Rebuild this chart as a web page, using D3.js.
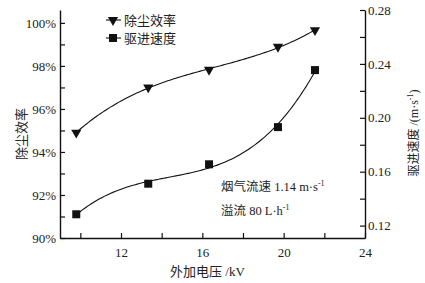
<!DOCTYPE html>
<html>
<head>
<meta charset="utf-8">
<script src="https://cdn.jsdelivr.net/npm/d3@7"></script>
<style>
  body { margin: 0; background: #fff; }
  svg { display: block; }
  text { font-family: "Liberation Serif", "Noto Sans CJK SC", serif; fill: #222; }
</style>
</head>
<body>
<div id="chart"></div>
<script>
// voltage (kV)
const voltage = [9.8, 13.34, 16.33, 19.72, 21.54];
// dust removal efficiency (%)
const efficiency = [94.9, 97.0, 97.82, 98.89, 99.66];
// migration velocity (m/s)
const velocity = [0.1284, 0.1511, 0.1655, 0.1931, 0.2354];

const xTicks = [10, 12, 14, 16, 18, 20, 22, 24];
const xLabels = [12, 16, 20, 24];
const yLeftTicks = [90, 91, 92, 93, 94, 95, 96, 97, 98, 99, 100];
const yLeftLabels = [90, 92, 94, 96, 98, 100];
const yRightTicks = [0.12, 0.14, 0.16, 0.18, 0.20, 0.22, 0.24, 0.26, 0.28];
const yRightLabels = [0.12, 0.16, 0.20, 0.24, 0.28];

const W = 425, H = 283;
const m = { top: 10, right: 60, bottom: 45, left: 60 };
const w = W - m.left - m.right, h = H - m.top - m.bottom;

const svg = d3.select('#chart').append('svg').attr('width', W).attr('height', H);
const g = svg.append('g').attr('transform', `translate(${m.left},${m.top})`);

const x = d3.scaleLinear().domain([9, 24]).range([0, w]);
const yL = d3.scaleLinear().domain([90, 100.6]).range([h, 0]);
const yR = d3.scaleLinear().domain([0.1108, 0.28]).range([h, 0]);

// least squares polynomial fit
function polyFit(xs, ys, deg) {
  const n = deg + 1;
  const A = Array.from({ length: n }, () => new Array(n + 1).fill(0));
  xs.forEach((xv, k) => {
    const t = xv - 16;
    for (let i = 0; i < n; i++) {
      for (let j = 0; j < n; j++) A[i][j] += Math.pow(t, i + j);
      A[i][n] += ys[k] * Math.pow(t, i);
    }
  });
  for (let i = 0; i < n; i++) {
    let p = i;
    for (let r = i + 1; r < n; r++) if (Math.abs(A[r][i]) > Math.abs(A[p][i])) p = r;
    [A[i], A[p]] = [A[p], A[i]];
    for (let r = 0; r < n; r++) {
      if (r === i) continue;
      const f = A[r][i] / A[i][i];
      for (let c = i; c <= n; c++) A[r][c] -= f * A[i][c];
    }
  }
  const coef = A.map((row, i) => row[n] / row[i]);
  return v => coef.reduce((s, c, i) => s + c * Math.pow(v - 16, i), 0);
}

const fitE = polyFit(voltage, efficiency, 3);
const fitV = polyFit(voltage, velocity, 3);
const xs = d3.range(voltage[0], voltage[voltage.length - 1] + 0.001, 0.1);

g.append('path')
  .attr('d', d3.line().x(d => x(d)).y(d => yL(fitE(d)))(xs))
  .attr('fill', 'none').attr('stroke', '#111').attr('stroke-width', 1.1);
g.append('path')
  .attr('d', d3.line().x(d => x(d)).y(d => yR(fitV(d)))(xs))
  .attr('fill', 'none').attr('stroke', '#111').attr('stroke-width', 1.1);

const tri = d3.symbol().type(d3.symbolTriangle).size(45);
g.selectAll('.tri').data(voltage).join('path')
  .attr('transform', (d, i) => `translate(${x(d)},${yL(efficiency[i])}) rotate(180)`)
  .attr('d', tri).attr('fill', '#111');
g.selectAll('.sq').data(voltage).join('rect')
  .attr('x', d => x(d) - 4).attr('y', (d, i) => yR(velocity[i]) - 4)
  .attr('width', 8).attr('height', 8).attr('fill', '#111');

// axes
const styleAxis = ax => {
  ax.selectAll('path.domain').attr('stroke', '#111').attr('stroke-width', 1.4);
  ax.selectAll('line').attr('stroke', '#111').attr('stroke-width', 1.2);
  ax.selectAll('text').attr('font-size', '13px').attr('fill', '#222')
    .attr('font-family', '"Liberation Serif", serif');
};

g.append('g').attr('transform', `translate(0,${h})`)
  .call(d3.axisBottom(x).tickValues(xTicks).tickSizeInner(-5).tickSizeOuter(0).tickPadding(10)
    .tickFormat(d => xLabels.includes(d) ? d : ''))
  .call(styleAxis);

g.append('g')
  .call(d3.axisLeft(yL).tickValues(yLeftTicks).tickSizeInner(-5).tickSizeOuter(0).tickPadding(4)
    .tickFormat(d => yLeftLabels.includes(d) ? d + '%' : ''))
  .call(styleAxis);

g.append('g').attr('transform', `translate(${w},0)`)
  .call(d3.axisRight(yR).tickValues(yRightTicks).tickSizeInner(-5).tickSizeOuter(0).tickPadding(3)
    .tickFormat(d => yRightLabels.includes(+d.toFixed(2)) ? d.toFixed(2) : ''))
  .call(styleAxis);

// axis titles
svg.append('text').attr('x', m.left + w / 2 - 5).attr('y', 276)
  .attr('text-anchor', 'middle').attr('font-size', '13px').text('外加电压 /kV');
svg.append('text').attr('transform', `translate(26,${m.top + h / 2 + 10}) rotate(-90)`)
  .attr('text-anchor', 'middle').attr('font-size', '13px').text('除尘效率');
const rt = svg.append('text').attr('transform', 'translate(418,133) rotate(-90)')
  .attr('text-anchor', 'middle').attr('font-size', '12px');
rt.append('tspan').text('驱进速度 /(m·s');
rt.append('tspan').attr('font-size', '8px').attr('dy', -5).text('-1');
rt.append('tspan').attr('dy', 5).text(')');

// legend
const legend = [
  { label: '除尘效率', mark: 'tri' },
  { label: '驱进速度', mark: 'sq' }
];
legend.forEach((d, i) => {
  const ly = 20 + i * 18;
  svg.append('line').attr('x1', 106).attr('x2', 121).attr('y1', ly).attr('y2', ly)
    .attr('stroke', '#111').attr('stroke-width', 1.1);
  if (d.mark === 'tri') {
    svg.append('path').attr('transform', `translate(113,${ly}) rotate(180)`).attr('d', tri).attr('fill', '#111');
  } else {
    svg.append('rect').attr('x', 109).attr('y', ly - 4).attr('width', 8).attr('height', 8).attr('fill', '#111');
  }
  svg.append('text').attr('x', 124).attr('y', ly + 5).attr('font-size', '13px').text(d.label);
});

// annotation
const a1 = svg.append('text').attr('x', 221).attr('y', 191).attr('font-size', '12.5px');
a1.append('tspan').text('烟气流速 1.14 m·s');
a1.append('tspan').attr('font-size', '8px').attr('dy', -5).text('-1');
const a2 = svg.append('text').attr('x', 221).attr('y', 215).attr('font-size', '12.5px');
a2.append('tspan').text('溢流 80 L·h');
a2.append('tspan').attr('font-size', '8px').attr('dy', -5).text('-1');
</script>
</body>
</html>
